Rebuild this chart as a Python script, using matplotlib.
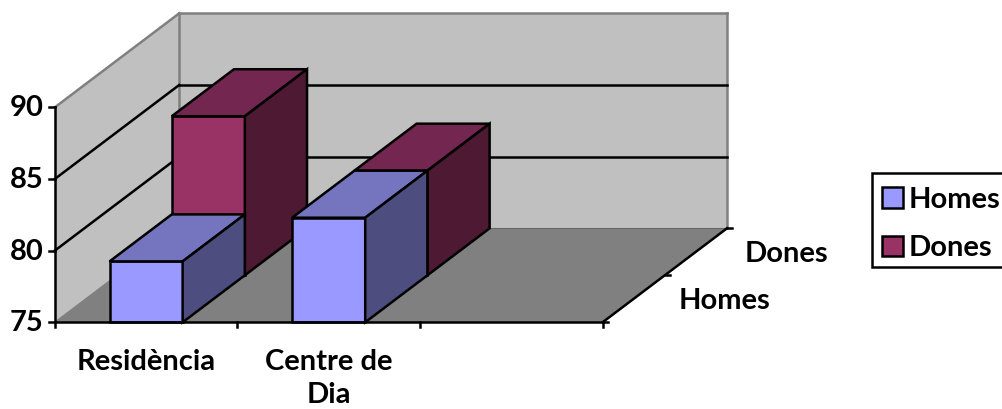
import matplotlib
matplotlib.use("Agg")
import matplotlib.pyplot as plt
from matplotlib.patches import Polygon, Rectangle

# Chart data
categories = ["Residència", "Centre de\nDia", ""]
series_names = ["Homes", "Dones"]
homes_values = [79.25, 82.3]
dones_values = [86.1, 82.3]
value_ticks = [75, 80, 85, 90]

# Face colours per series: front, top, side
homes_faces = ("#9999ff", "#7575bf", "#4d4d80")
dones_faces = ("#993366", "#732650", "#4d1933")
WALL = "#c0c0c0"
FLOOR = "#808080"
EDGE = "#808080"

# Oblique projection: category position, value and depth to figure pixels
ORIGIN_X, ORIGIN_Y = 54.8, 322.3
SLOT_W = 182.6
UNIT_H = 14.33
DEPTH_DX, DEPTH_DY = 62.2, -47.0
V_MIN, V_MAX = value_ticks[0], value_ticks[-1]
N_CAT, N_SER = len(categories), len(series_names)
BAR_W = 0.4
LINE = 1.8


def project(c, v, d):
    return (ORIGIN_X + c * SLOT_W + d * DEPTH_DX,
            ORIGIN_Y - (v - V_MIN) * UNIT_H + d * DEPTH_DY)


plt.rcParams["font.family"] = ["Lato", "DejaVu Sans"]
plt.rcParams["font.weight"] = "bold"
fig = plt.figure(figsize=(10.02, 4.09), dpi=100)
ax = fig.add_axes([0, 0, 1, 1])
ax.set_xlim(0, 1002)
ax.set_ylim(409, 0)
ax.axis("off")


def face(points, fc, ec="none", lw=0.0, z=1):
    ax.add_patch(Polygon(points, closed=True, facecolor=fc, edgecolor=ec,
                         linewidth=lw, joinstyle="miter", zorder=z))


def seg(a, b, color="black", lw=LINE, z=2):
    ax.plot([a[0], b[0]], [a[1], b[1]], color=color, lw=lw, zorder=z,
            solid_capstyle="projecting")


# Walls and floor
face([project(0, V_MIN, 0), project(0, V_MAX, 0), project(0, V_MAX, N_SER), project(0, V_MIN, N_SER)], WALL)
face([project(0, V_MIN, N_SER), project(0, V_MAX, N_SER), project(N_CAT, V_MAX, N_SER), project(N_CAT, V_MIN, N_SER)], WALL)
face([project(0, V_MIN, 0), project(N_CAT, V_MIN, 0), project(N_CAT, V_MIN, N_SER), project(0, V_MIN, N_SER)], FLOOR)

# Wall outlines
seg(project(0, V_MAX, 0), project(0, V_MAX, N_SER), EDGE)
seg(project(0, V_MAX, N_SER), project(N_CAT, V_MAX, N_SER), EDGE)
seg(project(0, V_MAX, N_SER), project(0, V_MIN, N_SER), EDGE)
seg(project(N_CAT, V_MAX, N_SER), project(N_CAT, V_MIN, N_SER), EDGE)
seg(project(0, V_MIN, 0), project(0, V_MIN, N_SER), EDGE, lw=1.0)
seg(project(0, V_MIN, N_SER), project(N_CAT, V_MIN, N_SER), "#666666", lw=0.8)

# Gridlines on the side and back walls
for v in value_ticks[1:-1]:
    seg(project(0, v, 0), project(0, v, N_SER))
    seg(project(0, v, N_SER), project(N_CAT, v, N_SER))


def draw_bar(c, value, s, faces):
    c0, c1 = c + (1 - BAR_W) / 2, c + (1 + BAR_W) / 2
    d0, d1 = s, s + 1
    front, top, side = faces
    kw = dict(ec="black", lw=LINE, z=3)
    face([project(c0, V_MIN, d0), project(c1, V_MIN, d0), project(c1, value, d0), project(c0, value, d0)], front, **kw)
    face([project(c0, value, d0), project(c1, value, d0), project(c1, value, d1), project(c0, value, d1)], top, **kw)
    face([project(c1, V_MIN, d0), project(c1, V_MIN, d1), project(c1, value, d1), project(c1, value, d0)], side, **kw)


# Rear series first so the front series overlaps it
for c, value in enumerate(dones_values):
    draw_bar(c, value, 1, dones_faces)
for c, value in enumerate(homes_values):
    draw_bar(c, value, 0, homes_faces)

# Axes in front of the bars
seg(project(0, V_MIN, 0), project(0, V_MAX, 0), z=4)
seg(project(0, V_MIN, 0), project(N_CAT, V_MIN, 0), z=4)
seg(project(N_CAT, V_MIN, 0), project(N_CAT, V_MIN, N_SER), z=4)

TXT = 21
for v in value_ticks:
    x, y = project(0, v, 0)
    seg((x - 6, y), (x, y), z=4)
    ax.text(x - 11, y + 1, str(v), ha="right", va="center", fontsize=TXT, zorder=5)

for c in range(N_CAT + 1):
    x, y = project(c, V_MIN, 0)
    seg((x, y), (x, y + 5), z=4)

for c, label in enumerate(categories):
    x, y = project(c + 0.5, V_MIN, 0)
    ax.text(x, y + 27, label, ha="center", va="top", fontsize=TXT, linespacing=1.33, zorder=5)

for s in range(N_SER + 1):
    x, y = project(N_CAT, V_MIN, s)
    seg((x, y), (x + 5, y), z=4)

for s, name in enumerate(series_names):
    x, y = project(N_CAT, V_MIN, s + 0.5)
    ax.text(x + 91, y + 2, name, ha="center", va="center", fontsize=TXT, zorder=5)

# Legend box, open on the right where it meets the figure edge
ax.add_patch(Rectangle((872, 173), 135, 94, facecolor="white", edgecolor="black",
                       linewidth=LINE, zorder=6))
handles = [Polygon([(0, 0)], facecolor=homes_faces[0], edgecolor="black", linewidth=LINE),
           Polygon([(0, 0)], facecolor=dones_faces[0], edgecolor="black", linewidth=LINE)]
leg = ax.legend(handles, series_names, loc="upper left",
                bbox_to_anchor=(882 / 1002, 1 - 187 / 409), fontsize=TXT,
                frameon=False, handlelength=0.72, handleheight=0.72,
                handletextpad=0.2, borderpad=0, labelspacing=0.76,
                borderaxespad=0)
leg.set_zorder(7)

fig.savefig("out.png", dpi=100)
